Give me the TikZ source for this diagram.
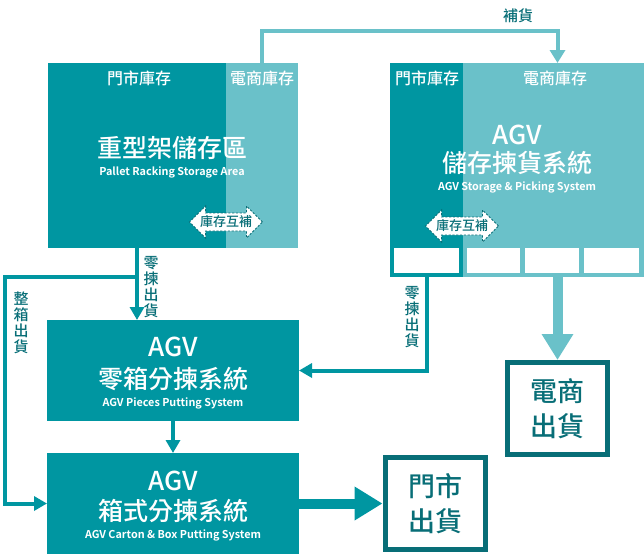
\documentclass[tikz,border=0pt]{standalone}
\usepackage{fontspec}
\setmainfont{Noto Sans CJK TC}[UprightFont=* Medium, BoldFont=* Bold]
\usetikzlibrary{arrows.meta,positioning,shapes.arrows}
\definecolor{tealdark}{RGB}{0,150,161}
\definecolor{teallight}{RGB}{106,193,201}
\definecolor{tealdeep}{RGB}{8,110,119}

\tikzset{
  block/.style={anchor=north west, inner sep=0pt, outer sep=0pt, draw=none},
  darkblock/.style={block, fill=tealdark},
  lightblock/.style={block, fill=teallight},
  cellbox/.style={block, fill=white},
  tablabel/.style={text=white, font=\fontsize{16}{16}\selectfont},
  agvlabel/.style={text=white, font=\fontsize{26}{26}\selectfont},
  titlelabel/.style={text=white, font=\fontsize{25}{25}\selectfont},
  sublabel/.style={text=white, font=\bfseries\fontsize{10.8}{11}\selectfont},
  flowlabel/.style={text=tealdeep, align=center, font=\fontsize{15}{16}\selectfont},
  swaparrow/.style={double arrow, double arrow head extend=7pt, fill=white,
    draw=tealdeep, line width=0.9pt, dash pattern=on 2.2pt off 1.6pt,
    text=tealdeep, inner xsep=1pt, inner ysep=2.5pt, font=\fontsize{13}{13}\selectfont},
  shipbox/.style={draw=tealdeep, line width=5pt, fill=white, minimum width=100pt,
    minimum height=92pt, align=center, text=tealdeep, font=\fontsize{27}{35}\selectfont},
  thinflow/.style={line width=4pt, -{Triangle[length=13pt,width=14pt]}},
}

\begin{document}
\begin{tikzpicture}[x=1pt,y=-1pt]
  \useasboundingbox (0,0) rectangle (644,557);

  \node[lightblock, minimum width=250pt, minimum height=185pt] (rack) at (48,63) {};
  \node[darkblock, minimum width=178pt, minimum height=185pt] (rackstore) at (48,63) {};
  \node[tablabel] (rackstorelab) at (139,78) {門市庫存};
  \node[tablabel] (rackeclab) at (262,78) {電商庫存};
  \node[titlelabel] (racktitle) at (172,148) {重型架儲存區};
  \node[sublabel] (racksub) at (172,172) {Pallet Racking Storage Area};
  \node[swaparrow] (rackswap) at (226,222) {庫存互補};

  \node[lightblock, minimum width=254pt, minimum height=214pt] (agv) at (390,63) {};
  \node[darkblock, minimum width=73pt, minimum height=214pt] (agvstore) at (390,63) {};
  \foreach \x/\w [count=\i] in {394/65,467/53,525/54,584/55}
    \node[cellbox, minimum width=\w pt, minimum height=25pt] (cell\i) at (\x,248) {};
  \node[tablabel] (agvstorelab) at (427,78) {門市庫存};
  \node[tablabel] (agveclab) at (555,78) {電商庫存};
  \node[agvlabel] (agvname) at (517,135) {AGV};
  \node[titlelabel] (agvtitle) at (517,163) {儲存揀貨系統};
  \node[sublabel] (agvsub) at (517,187) {AGV Storage \& Picking System};
  \node[swaparrow] (agvswap) at (462,226) {庫存互補};

  \node[darkblock, minimum width=252pt, minimum height=101pt] (pieces) at (47,320) {};
  \node[agvlabel] (piecesname) at (173,347) {AGV};
  \node[titlelabel] (piecestitle) at (173,379) {零箱分揀系統};
  \node[sublabel] (piecessub) at (173,403) {AGV Pieces Putting System};

  \node[darkblock, minimum width=252pt, minimum height=101pt] (carton) at (47,453) {};
  \node[agvlabel] (cartonname) at (173,481) {AGV};
  \node[titlelabel] (cartontitle) at (173,511) {箱式分揀系統};
  \node[sublabel] (cartonsub) at (173,535) {AGV Carton \& Box Putting System};

  \node[shipbox] (ecship) at (557.5,408.5) {電商\\出貨};
  \node[shipbox] (storeship) at (435,503.5) {門市\\出貨};

  \coordinate (resupply) at (262,63);
  \draw[teallight, line width=4pt, -{Triangle[length=13pt,width=15pt]}]
    (resupply) -- ++(0,-32) -| (ecship.north |- agv.north);
  \node[flowlabel] (resupplylab) at (518,16) {補貨};

  \draw[tealdark, thinflow] (rackstore.south) -- (pieces.north -| rackstore.south);
  \node[flowlabel] (rackpicklab) at (151,287) {零\\揀\\出\\貨};
  \coordinate (split) at (137,277);
  \draw[tealdark, thinflow] (split) -- ++(-132,0) |- (carton.west);
  \node[flowlabel] (caselab) at (21,323) {整\\箱\\出\\貨};

  \draw[tealdark, thinflow] (agvstore.south) |- (pieces.east);
  \node[flowlabel] (agvpicklab) at (412,317) {零\\揀\\出\\貨};

  \draw[tealdark, thinflow] (pieces.south -| piecesname) -- (carton.north -| piecesname);
  \draw[teallight, line width=10pt, -{Triangle[length=26pt,width=30pt]}]
    (ecship.north |- agv.south) -- (ecship.north);
  \draw[tealdark, line width=10pt, -{Triangle[length=28pt,width=32pt]}]
    (carton.east) -- (storeship.west);
\end{tikzpicture}
\end{document}
